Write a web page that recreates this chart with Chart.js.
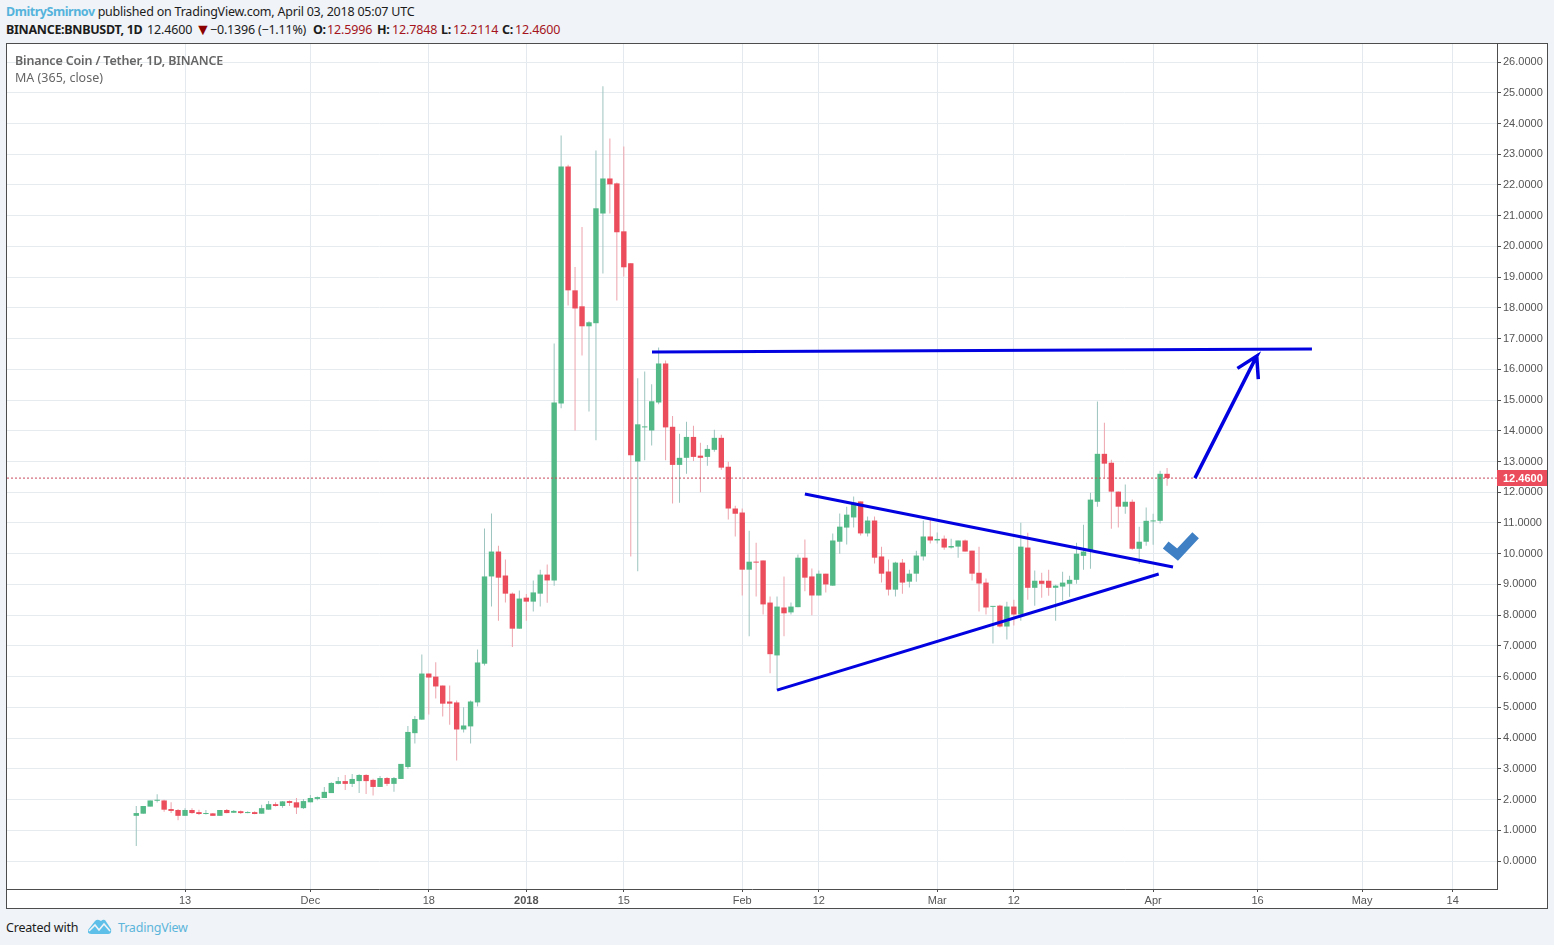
<!DOCTYPE html>
<html>
<head>
<meta charset="utf-8">
<title>BNBUSDT</title>
<script src="https://cdn.jsdelivr.net/npm/chart.js@4"></script>
<style>
    html, body { margin: 0; padding: 0; width: 1554px; height: 945px; overflow: hidden; background: #f0f3f7; }
    body { position: relative; font-family: "Noto Sans", sans-serif; font-size: 12.5px; color: #1c1c1c; }
    .row { position: absolute; white-space: nowrap; }
    .author { color: #55b3dc; font-weight: 700; letter-spacing: -0.45px; }
    .bold { font-weight: 700; letter-spacing: -0.3px; }
    .down { color: #a5141c; letter-spacing: -0.15px; }
    #frame { position: absolute; left: 6px; top: 43px; width: 1540px; height: 864px; border: 1px solid #4d4d4d; background: #fff; }
    #priceChart { position: absolute; left: 0; top: 0; }
    .legend { position: absolute; left: 8px; color: #666; white-space: nowrap; }
</style>
</head>
<body>
<div class="row" style="left:6px;top:3px;letter-spacing:-0.22px"><span class="author">DmitrySmirnov</span> published on TradingView.com, April 03, 2018 05:07 UTC</div>

<div class="row bold" style="left:6px;top:21px">BINANCE:BNBUSDT, 1D</div>
<div class="row" style="left:147px;top:21px;letter-spacing:-0.15px">12.4600</div>
<div class="row" style="left:195px;top:18px;color:#8b0000;font-size:16px">▼</div>
<div class="row" style="left:210px;top:21px;letter-spacing:-0.2px">−0.1396 (−1.11%)</div>
<div class="row bold" style="left:313px;top:21px">O:</div>
<div class="row down" style="left:327px;top:21px">12.5996</div>
<div class="row bold" style="left:377px;top:21px">H:</div>
<div class="row down" style="left:392px;top:21px">12.7848</div>
<div class="row bold" style="left:441px;top:21px">L:</div>
<div class="row down" style="left:453px;top:21px">12.2114</div>
<div class="row bold" style="left:502px;top:21px">C:</div>
<div class="row down" style="left:515px;top:21px">12.4600</div>

<div id="frame">
    <canvas id="priceChart" width="1540" height="864"></canvas>
    <div class="legend" style="top:8px;font-weight:600;letter-spacing:-0.15px">Binance Coin / Tether, 1D, BINANCE</div>
    <div class="legend" style="top:25px">MA (365, close)</div>
</div>

<div class="row" style="left:6px;top:919px;letter-spacing:-0.2px">Created with</div>
<svg class="row" style="left:88px;top:919px" width="24" height="15" viewBox="0 0 24 15">
    <path d="M0 11 L7 2 Q9 0 11 1 L13 2 Q15 0 17 1 L23 10 Q24 15 20 15 L3 15 Q-1 15 0 11 Z" fill="#5ec0e8"/>
    <path d="M1 12 L7 6 L11 11 L16 5 L22 12" fill="none" stroke="#f0f3f7" stroke-width="1.6"/>
</svg>
<div class="row" style="left:118px;top:919px;color:#5cb5db;letter-spacing:-0.2px">TradingView</div>

<script>
// daily BNB/USDT candles, first one is 6 Nov 2017, x axis counts days from there
const opens = [
    1.47, 1.54, 1.77, 1.96, 1.97, 1.69, 1.66, 1.47, 1.66, 1.59,
    1.53, 1.55, 1.47, 1.66, 1.57, 1.62, 1.56, 1.59, 1.54, 1.67,
    1.85, 1.79, 1.95, 1.91, 1.72, 1.91, 2.02, 2.05, 2.21, 2.51,
    2.60, 2.51, 2.60, 2.80, 2.64, 2.41, 2.70, 2.51, 2.67, 3.06,
    4.16, 4.60, 6.10, 6.00, 5.71, 5.19, 5.16, 4.28, 4.38, 5.16,
    6.42, 9.26, 10.07, 9.29, 8.70, 7.56, 8.57, 8.44, 8.70, 9.32,
    9.13, 14.89, 22.60, 18.57, 18.05, 17.40, 17.50, 21.07, 22.21, 22.05,
    20.49, 19.45, 13.00, 14.11, 14.01, 14.92, 16.19, 14.13, 12.89, 13.12,
    13.80, 13.19, 13.15, 13.38, 13.77, 12.83, 11.47, 11.34, 9.48, 9.74,
    9.78, 8.41, 6.69, 8.25, 8.09, 8.26, 9.87, 9.26, 8.64, 9.35,
    8.96, 10.39, 10.85, 11.18, 11.70, 10.66, 11.08, 9.91, 9.42, 8.83,
    9.71, 9.09, 9.35, 9.91, 10.56, 10.43, 10.49, 10.20, 10.23, 10.43,
    10.10, 9.38, 9.06, 8.27, 8.31, 7.63, 8.28, 8.02, 10.20, 8.89,
    9.12, 9.12, 8.89, 8.93, 9.02, 9.15, 9.93, 10.10, 11.69, 13.25,
    12.96, 12.02, 11.53, 11.69, 10.16, 10.39, 11.05, 11.07, 12.5996
];
const highs = [
    1.79, 1.79, 1.97, 2.17, 1.99, 1.91, 1.69, 1.72, 1.72, 1.67,
    1.66, 1.56, 1.66, 1.69, 1.66, 1.64, 1.62, 1.62, 1.83, 1.95,
    1.91, 1.95, 1.97, 2.05, 2.02, 2.15, 2.10, 2.41, 2.56, 2.73,
    2.80, 2.83, 2.82, 2.82, 2.68, 2.77, 2.73, 2.73, 3.16, 4.39,
    4.72, 6.72, 6.10, 6.47, 5.71, 5.71, 5.22, 5.00, 5.22, 6.88,
    10.82, 11.31, 10.26, 9.81, 8.74, 8.80, 8.69, 9.13, 9.48, 9.65,
    16.84, 23.61, 22.66, 19.33, 20.63, 17.56, 23.12, 25.21, 23.51, 22.08,
    23.25, 19.45, 15.71, 15.93, 15.51, 16.71, 16.29, 14.48, 13.90, 14.29,
    14.16, 13.61, 13.54, 14.03, 13.87, 12.99, 11.56, 11.47, 10.75, 10.36,
    9.78, 8.61, 8.61, 9.26, 8.41, 9.97, 10.46, 9.52, 9.45, 9.35,
    10.66, 11.31, 11.53, 11.86, 11.70, 11.21, 11.21, 10.23, 9.81, 9.74,
    9.83, 9.48, 10.10, 11.08, 11.14, 10.69, 10.59, 10.49, 10.43, 10.46,
    10.10, 10.23, 9.19, 8.29, 8.34, 8.44, 8.50, 11.01, 10.68, 9.45,
    9.38, 9.48, 8.99, 9.41, 9.28, 10.36, 10.94, 11.98, 14.95, 14.26,
    13.06, 12.02, 12.25, 11.76, 10.88, 11.50, 11.30, 12.70, 12.7848
];
const lows = [
    0.49, 1.54, 1.77, 1.90, 1.60, 1.56, 1.33, 1.47, 1.54, 1.50,
    1.51, 1.47, 1.47, 1.55, 1.56, 1.53, 1.55, 1.52, 1.54, 1.67,
    1.77, 1.73, 1.79, 1.53, 1.69, 1.91, 1.98, 2.05, 2.21, 2.50,
    2.31, 2.41, 2.21, 2.18, 2.13, 2.41, 2.44, 2.25, 2.67, 2.99,
    3.82, 4.60, 4.77, 5.29, 4.70, 4.43, 3.27, 4.18, 3.82, 5.03,
    6.36, 8.28, 7.82, 8.41, 6.96, 7.56, 7.82, 8.12, 8.28, 8.40,
    8.96, 14.73, 18.08, 14.01, 16.45, 14.63, 13.69, 19.12, 21.07, 18.24,
    19.02, 9.91, 9.43, 13.04, 13.52, 14.86, 13.04, 11.63, 11.66, 12.60,
    13.02, 12.00, 12.86, 13.32, 12.73, 11.11, 10.56, 8.64, 7.31, 8.61,
    8.02, 6.11, 5.56, 7.31, 8.02, 8.26, 8.78, 8.00, 8.64, 8.74,
    8.96, 10.00, 10.30, 10.85, 10.59, 10.56, 9.68, 9.06, 8.64, 8.61,
    8.70, 8.90, 9.09, 9.78, 10.33, 10.33, 10.13, 10.17, 9.87, 10.07,
    9.13, 8.12, 8.02, 7.08, 7.60, 7.21, 7.66, 7.82, 8.50, 8.31,
    8.57, 8.63, 7.82, 8.47, 8.60, 9.02, 9.48, 9.51, 11.53, 12.44,
    10.81, 10.85, 11.30, 10.13, 9.67, 10.26, 10.29, 10.98, 12.2114
];
const closes = [
    1.56, 1.79, 1.97, 1.98, 1.67, 1.63, 1.47, 1.66, 1.56, 1.53,
    1.56, 1.47, 1.66, 1.56, 1.63, 1.56, 1.58, 1.53, 1.72, 1.85,
    1.79, 1.94, 1.89, 1.74, 1.95, 2.05, 2.08, 2.25, 2.54, 2.60,
    2.51, 2.67, 2.80, 2.60, 2.41, 2.70, 2.51, 2.70, 3.16, 4.20,
    4.62, 6.10, 5.97, 5.68, 5.12, 5.12, 4.28, 4.41, 5.19, 6.46,
    9.26, 10.07, 9.22, 8.70, 7.56, 8.54, 8.44, 8.74, 9.32, 9.13,
    14.92, 22.60, 18.57, 17.98, 17.40, 17.53, 21.24, 22.21, 22.02, 20.46,
    19.32, 13.20, 14.21, 14.14, 14.96, 16.19, 14.11, 12.89, 13.12, 13.80,
    13.15, 13.12, 13.41, 13.77, 12.80, 11.47, 11.30, 9.48, 9.74, 9.71,
    8.35, 6.73, 8.28, 8.06, 8.28, 9.87, 9.22, 8.64, 9.35, 9.00,
    10.43, 10.88, 11.27, 11.66, 10.66, 11.08, 9.87, 9.35, 8.83, 9.71,
    9.06, 9.35, 9.94, 10.56, 10.43, 10.48, 10.20, 10.25, 10.43, 10.07,
    9.35, 9.03, 8.25, 8.28, 7.63, 8.28, 8.02, 10.23, 8.89, 9.12,
    9.02, 8.89, 8.96, 9.06, 9.15, 10.00, 10.07, 11.76, 13.25, 12.93,
    12.02, 11.53, 11.69, 10.16, 10.39, 11.07, 11.07, 12.60, 12.46
];
const lastPrice = 12.46;
const lastPriceLabel = '12.4600';

const yTicks = [0, 1, 2, 3, 4, 5, 6, 7, 8, 9, 10, 11, 12, 13, 14, 15, 16, 17, 18, 19, 20, 21, 22, 23, 24, 25, 26];
const xTicks = [7, 25, 42, 56, 70, 87, 98, 115, 126, 146, 161, 176, 189];
const xTickLabels = ['13', 'Dec', '18', '2018', '15', 'Feb', '12', 'Mar', '12', 'Apr', '16', 'May', '14'];

// hand drawn trend lines, days on x and prices on y
const resistanceDays = [74.05, 168.8];
const resistancePrices = [16.56, 16.66];
const upperDays = [96.0, 148.85];
const upperPrices = [11.94, 9.57];
const lowerDays = [92.0, 146.8];
const lowerPrices = [5.56, 9.34];
const arrowDays = [152.0, 160.87, 158.1, 160.87, 161.1];
const arrowPrices = [12.46, 16.43, 16.03, 16.43, 15.68];
const checkDays = [147.8, 149.5, 152.1];
const checkPrices = [10.28, 9.97, 10.6];

const xMin = -18.56, xMax = 195.37;
const yMin = -0.911, yMax = 26.586;

const UP = '#53b987', DOWN = '#eb4d5c';
const UP_WICK = '#9cc4bf', DOWN_WICK = '#eda3ac';
const DRAW_BLUE = '#0202e0';

const days = opens.map((_, i) => i);
const isUp = i => closes[i] >= opens[i];

function linePoints(xs, ys) {
    return xs.map((x, i) => ({ x: x, y: ys[i] }));
}

function drawnLine(xs, ys, color, width, order) {
    return {
        type: 'line',
        data: linePoints(xs, ys),
        borderColor: color,
        borderWidth: width,
        pointRadius: 0,
        tension: 0,
        order: order
    };
}

// no room reserved for half of the first and last tick label
function dropPadding(scale) {
    scale.paddingTop = 0;
    scale.paddingBottom = 0;
    scale.paddingLeft = 0;
    scale.paddingRight = 0;
}

// red tag with the last price on the right axis
const lastPriceTag = {
    id: 'lastPriceTag',
    afterDraw(chart) {
        const ctx = chart.ctx;
        const y = chart.scales.y.getPixelForValue(lastPrice);
        const left = chart.chartArea.right;
        ctx.save();
        ctx.fillStyle = '#eb4d5c';
        ctx.fillRect(left, Math.round(y) - 8, chart.width - left, 16);
        ctx.fillStyle = '#fff';
        ctx.font = 'bold 11px "Liberation Sans"';
        ctx.textBaseline = 'middle';
        ctx.fillText(lastPriceLabel, left + 6, y + 0.5);
        ctx.restore();
    }
};

new Chart(document.getElementById('priceChart'), {
    type: 'bar',
    plugins: [lastPriceTag],
    data: {
        datasets: [
            {
                data: days.map(i => ({ x: i, y: [lows[i], highs[i]] })),
                backgroundColor: days.map(i => isUp(i) ? UP_WICK : DOWN_WICK),
                barThickness: 1,
                grouped: false,
                inflateAmount: 0,
                order: 6
            },
            {
                data: days.map(i => ({ x: i, y: [opens[i], closes[i]] })),
                backgroundColor: days.map(i => isUp(i) ? UP : DOWN),
                barThickness: 5.4,
                minBarLength: 1,
                grouped: false,
                inflateAmount: 0,
                order: 5
            },
            Object.assign(drawnLine([xMin, xMax], [lastPrice, lastPrice], '#c9485a', 1, 4), { borderDash: [2, 2] }),
            drawnLine(resistanceDays, resistancePrices, DRAW_BLUE, 3, 3),
            drawnLine(upperDays, upperPrices, DRAW_BLUE, 3, 3),
            drawnLine(lowerDays, lowerPrices, DRAW_BLUE, 3, 3),
            drawnLine(arrowDays, arrowPrices, DRAW_BLUE, 3.5, 3),
            drawnLine(checkDays, checkPrices, '#3f80c4', 9, 2)
        ]
    },
    options: {
        responsive: false,
        animation: false,
        layout: { padding: 0 },
        plugins: {
            legend: { display: false },
            title: { display: false },
            tooltip: { enabled: false }
        },
        scales: {
            x: {
                type: 'linear',
                offset: false,
                bounds: 'data',
                min: xMin,
                max: xMax,
                afterBuildTicks: scale => { scale.ticks = xTicks.map(v => ({ value: v })); },
                afterFit: scale => { scale.height = 19; dropPadding(scale); },
                grid: { color: '#e3e9ee', tickColor: '#4d4d4d', tickLength: 3, offset: false },
                border: { display: true, color: '#4d4d4d' },
                ticks: {
                    autoSkip: false,
                    maxRotation: 0,
                    padding: 2,
                    color: '#555',
                    font: ctx => ({ family: '"Liberation Sans"', size: 11, weight: ctx.index === 3 ? 'bold' : 'normal' }),
                    callback: (value, index) => xTickLabels[index]
                }
            },
            y: {
                position: 'right',
                bounds: 'data',
                min: yMin,
                max: yMax,
                afterBuildTicks: scale => { scale.ticks = yTicks.map(v => ({ value: v })); },
                afterFit: scale => { scale.width = 50; dropPadding(scale); },
                grid: { color: '#e6ebef', tickColor: '#4d4d4d', tickLength: 4 },
                border: { display: true, color: '#4d4d4d' },
                ticks: {
                    padding: 2,
                    color: '#555',
                    font: { family: '"Liberation Sans"', size: 11 },
                    callback: value => value.toFixed(4)
                }
            }
        }
    }
});
</script>
</body>
</html>
